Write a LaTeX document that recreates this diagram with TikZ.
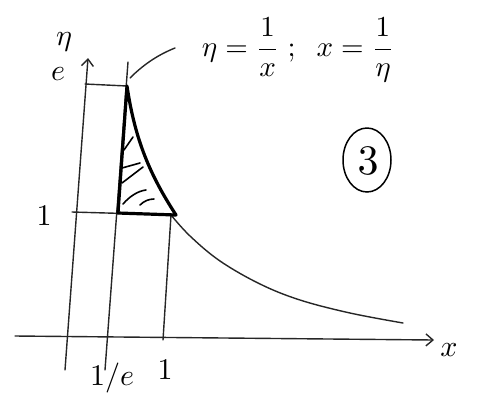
\documentclass[tikz,border=0pt]{standalone}
\usetikzlibrary{arrows.meta}
\newcommand{\bigtx}[2][3]{\scalebox{#1}{$#2$}}
\begin{document}
\begin{tikzpicture}[x=1pt,y=-1pt, line cap=round, line join=round,
  pen/.style={line width=1.4pt, black!85},
  bold/.style={line width=3.2pt, black},
  hatch/.style={line width=1.6pt, black},
  tip/.style={-{Straight Barb[length=7pt,width=12pt,line width=1.4pt]}},
  lab/.style={inner sep=0pt}]
\useasboundingbox (0,0) rectangle (478,405);
% axes
\coordinate (xs) at (15,336);
\coordinate (xe) at (434,340);
\draw[pen, tip] (xs) -- (xe);
\coordinate (ys) at (65,370);
\coordinate (ye) at (88,58);
\draw[pen, tip] (ys) -- (ye);
% key points
\coordinate (eL) at (85,84);
\coordinate (T) at (127,86);
\coordinate (oL) at (72,212);
\coordinate (B) at (118,213);
\coordinate (R) at (176,215);
% vertical line x = 1/e
\coordinate (ve0) at (105,370);
\coordinate (ve1) at (128,62);
\draw[pen] (ve0) -- (ve1);
% vertical line x = 1
\coordinate (v10) at (163,340);
\coordinate (v11) at (171,215);
\draw[pen] (v10) -- (v11);
% horizontal lines
\draw[pen] (eL) -- (T);
\draw[pen] (oL) -- (R);
% curve eta = 1/x
\draw[pen] plot[smooth, tension=0.6] coordinates {(171,215) (190,236) (220,261) (260,284) (300,300) (350,313) (403,323)};
% thick region
\draw[bold] (T) -- (B) -- (R) .. controls (150,175) and (135,140) .. (T);
% hatching
\coordinate (h1a) at (124,150); \coordinate (h1b) at (133,137);
\draw[hatch] (h1a) -- (h1b);
\coordinate (h2a) at (122,168); \coordinate (h2b) at (140,163);
\draw[hatch] (h2a) -- (h2b);
\coordinate (h3a) at (122,183); \coordinate (h3b) at (143,167);
\draw[hatch] (h3a) -- (h3b);
\coordinate (h4a) at (123,204); \coordinate (h4b) at (146,190);
\draw[hatch] (h4a) .. controls (130,196) and (138,191) .. (h4b);
\coordinate (h5a) at (140,205); \coordinate (h5b) at (154,199);
\draw[hatch] (h5a) .. controls (144,201) and (149,199) .. (h5b);
% leader
\coordinate (la) at (130,78);
\coordinate (lb) at (175,48);
\draw[pen] (la) .. controls (145,63) and (160,54) .. (lb);
% labels
\node[lab] (eq) at (298,50) {\bigtx[2.9]{\displaystyle\eta=\frac{1}{x}\;;\;\;x=\frac{1}{\eta}}};
\node[lab] (eta) at (64,42) {\bigtx{\eta}};
\node[lab] (e) at (58,74) {\bigtx{e}};
\node[lab] (one) at (44,216) {\bigtx{1}};
\node[lab] (inve) at (112,378) {\bigtx{1/e}};
\node[lab] (onex) at (165,370) {\bigtx{1}};
\node[lab] (xl) at (449,350) {\bigtx{x}};
\draw[line width=1.5pt] (367,160) ellipse [x radius=24, y radius=32];
\node[lab] (three) at (368,161) {\bigtx[4.2]{3}};
\end{tikzpicture}
\end{document}
